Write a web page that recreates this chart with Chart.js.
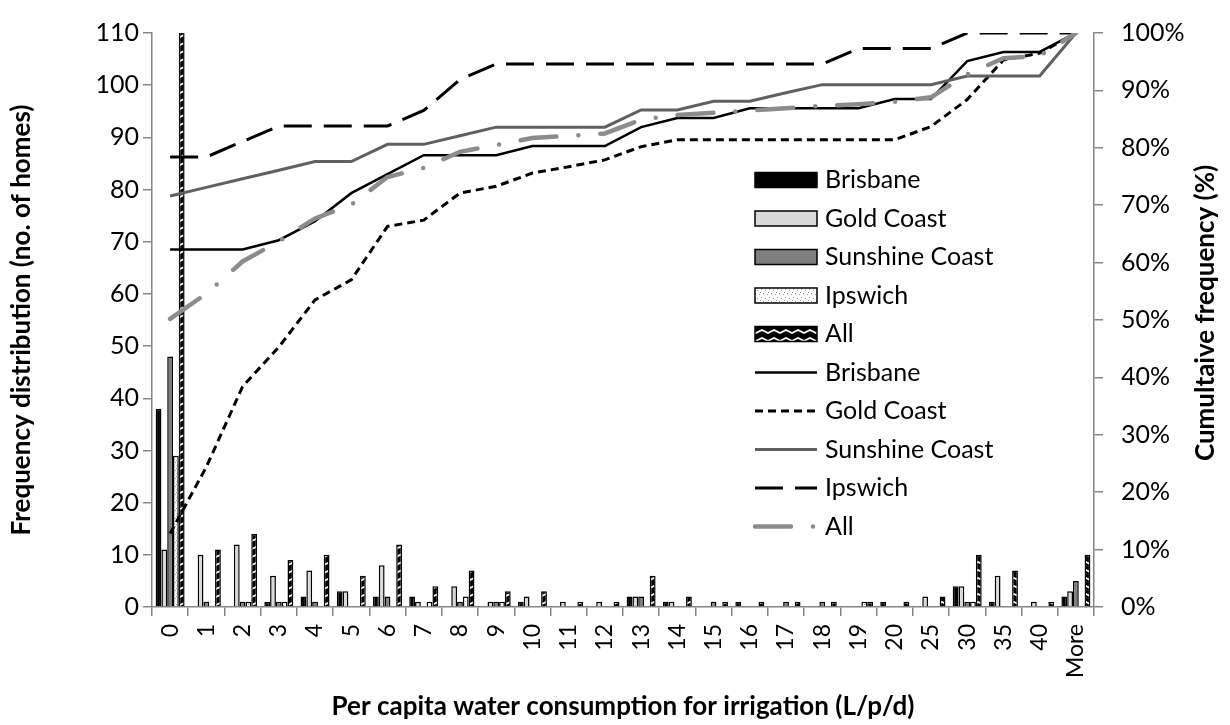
<!DOCTYPE html>
<html>
<head>
<meta charset="utf-8">
<script src="https://cdn.jsdelivr.net/npm/chart.js@4.4.0/dist/chart.umd.min.js"></script>
<style>
html, body { margin: 0; padding: 0; background: #fff; }
#wrap { width: 1230px; height: 725px; }
</style>
</head>
<body>
<div id="wrap"><canvas id="myChart" width="1230" height="725"></canvas></div>
<script>
// categories (L/p/d)
const categories = ['0','1','2','3','4','5','6','7','8','9','10','11','12','13','14','15','16','17','18','19','20','25','30','35','40','More'];

// frequency (no. of homes)
const brisbane  = [38,0,0,1,2,3,2,2,0,0,1,0,0,2,1,0,1,0,0,0,1,0,4,1,0,2];
const goldCoast = [11,10,12,6,7,3,8,1,4,1,2,1,1,2,1,0,0,0,0,0,0,2,4,6,1,3];
const sunshine  = [48,1,1,1,1,0,2,0,1,1,0,0,0,2,0,1,0,1,1,0,0,0,1,0,0,5];
const ipswich   = [29,0,1,1,0,0,0,1,2,1,0,0,0,0,0,0,0,0,0,1,0,0,1,0,0,0];
const allHomes  = [126,11,14,9,10,6,12,4,7,3,3,1,1,6,2,1,1,1,1,1,1,2,10,7,1,10];

// cumulative frequency (%)
const brisbaneCum  = [62.3,62.3,62.3,63.9,67.2,72.1,75.4,78.7,78.7,78.7,80.3,80.3,80.3,83.6,85.2,85.2,86.9,86.9,86.9,86.9,88.5,88.5,95.1,96.7,96.7,100];
const goldCoastCum = [12.8,24.4,38.4,45.3,53.5,57.0,66.3,67.4,72.1,73.3,75.6,76.7,77.9,80.2,81.4,81.4,81.4,81.4,81.4,81.4,81.4,83.7,88.4,95.3,96.5,100];
const sunshineCum  = [71.6,73.1,74.6,76.1,77.6,77.6,80.6,80.6,82.1,83.6,83.6,83.6,83.6,86.6,86.6,88.1,88.1,89.6,91.0,91.0,91.0,91.0,92.5,92.5,92.5,100];
const ipswichCum   = [78.4,78.4,81.1,83.8,83.8,83.8,83.8,86.5,91.9,94.6,94.6,94.6,94.6,94.6,94.6,94.6,94.6,94.6,94.6,97.3,97.3,97.3,100,100,100,100];
const allCum       = [50.2,54.6,60.2,63.7,67.7,70.1,74.9,76.5,79.3,80.5,81.7,82.1,82.5,84.9,85.7,86.1,86.5,86.9,87.3,87.6,88.0,88.8,92.8,95.6,96.0,100];

const yTicks = { min: 0, max: 110, step: 10 };
const y1Ticks = { min: 0, max: 100, step: 10 };

Chart.defaults.font.family = 'Lato';
Chart.defaults.color = '#000';

// fill patterns
function dotPattern() {
    const c = document.createElement('canvas');
    c.width = 8; c.height = 8;
    const g = c.getContext('2d');
    g.fillStyle = '#fff';
    g.fillRect(0, 0, 8, 8);
    g.fillStyle = '#9a9a9a';
    [[1,1],[5,2],[3,5],[7,6],[0,4]].forEach(p => g.fillRect(p[0], p[1], 1, 1));
    return g.createPattern(c, 'repeat');
}
function zigzagPattern() {
    const c = document.createElement('canvas');
    c.width = 12; c.height = 8;
    const g = c.getContext('2d');
    g.fillStyle = '#000';
    g.fillRect(0, 0, 12, 8);
    g.strokeStyle = '#fff';
    g.lineWidth = 1.6;
    g.beginPath();
    g.moveTo(-3, 3); g.lineTo(0, 5); g.lineTo(6, 2); g.lineTo(12, 5); g.lineTo(15, 3);
    g.stroke();
    return g.createPattern(c, 'repeat');
}

const axisGrey = '#868686';

const legendPlugin = {
    id: 'insideLegend',
    afterDraw(chart) {
        const ctx = chart.ctx;
        ctx.save();
        ctx.font = '25px Lato';
        ctx.textBaseline = 'middle';
        chart.data.datasets.forEach((ds, i) => {
            const y = 180 + i * 38.5;
            if (ds.type === 'line') {
                ctx.beginPath();
                ctx.setLineDash(ds.borderDash || []);
                ctx.lineWidth = ds.borderWidth;
                ctx.strokeStyle = ds.borderColor;
                ctx.lineCap = ds.borderCapStyle || 'butt';
                ctx.moveTo(755, y);
                ctx.lineTo(817, y);
                ctx.stroke();
            } else {
                ctx.setLineDash([]);
                ctx.fillStyle = ds.backgroundColor;
                ctx.fillRect(755, y - 7.5, 62, 15);
                ctx.lineWidth = 1.5;
                ctx.strokeStyle = '#000';
                ctx.strokeRect(755, y - 7.5, 62, 15);
            }
            ctx.setLineDash([]);
            ctx.fillStyle = '#000';
            ctx.fillText(ds.label, 825, y);
        });
        // right axis title reads bottom to top
        ctx.translate(1206, 313);
        ctx.rotate(-Math.PI / 2);
        ctx.font = 'bold 26px Lato';
        ctx.textAlign = 'center';
        ctx.fillText('Cumultaive frequency (%)', 0, 0);
        ctx.restore();
    }
};

const barOpts = { yAxisID: 'y', order: 10, borderColor: '#000', borderWidth: 1.5, categoryPercentage: 0.8, barPercentage: 1.0 };

const data = {
    labels: categories,
    datasets: [
        Object.assign({ label: 'Brisbane', data: brisbane, backgroundColor: '#000' }, barOpts),
        Object.assign({ label: 'Gold Coast', data: goldCoast, backgroundColor: '#d9d9d9' }, barOpts),
        Object.assign({ label: 'Sunshine Coast', data: sunshine, backgroundColor: '#7f7f7f' }, barOpts),
        Object.assign({ label: 'Ipswich', data: ipswich, backgroundColor: dotPattern() }, barOpts),
        Object.assign({ label: 'All', data: allHomes, backgroundColor: zigzagPattern() }, barOpts),
        { type: 'line', label: 'Brisbane', data: brisbaneCum, yAxisID: 'y1', order: 5,
          borderColor: '#000', borderWidth: 2.5, pointRadius: 0, tension: 0 },
        { type: 'line', label: 'Gold Coast', data: goldCoastCum, yAxisID: 'y1', order: 4,
          borderColor: '#000', borderWidth: 3, borderDash: [8, 5], pointRadius: 0, tension: 0 },
        { type: 'line', label: 'Sunshine Coast', data: sunshineCum, yAxisID: 'y1', order: 3,
          borderColor: '#606060', borderWidth: 3, pointRadius: 0, tension: 0 },
        { type: 'line', label: 'Ipswich', data: ipswichCum, yAxisID: 'y1', order: 2,
          borderColor: '#000', borderWidth: 3, borderDash: [28, 12], pointRadius: 0, tension: 0 },
        { type: 'line', label: 'All', data: allCum, yAxisID: 'y1', order: 1,
          borderColor: '#8c8c8c', borderWidth: 4.5, borderDash: [36, 22, 0, 22], borderCapStyle: 'round',
          pointRadius: 0, tension: 0 }
    ]
};

const config = {
    type: 'bar',
    data: data,
    options: {
        responsive: false,
        animation: false,
        devicePixelRatio: 1,
        layout: { padding: { top: 20, left: 0, right: 0, bottom: 0 } },
        plugins: { legend: { display: false }, tooltip: { enabled: false } },
        scales: {
            x: {
                grid: { offset: true, drawOnChartArea: false, drawTicks: true, tickLength: 9, color: axisGrey, lineWidth: 1.5 },
                border: { color: axisGrey, width: 1.5 },
                ticks: { minRotation: 90, maxRotation: 90, autoSkip: false, padding: 8, font: { size: 23 } },
                title: { display: true, text: 'Per capita water consumption for irrigation (L/p/d)',
                         font: { size: 26, weight: 'bold' }, padding: { top: 0, bottom: 3 } },
                afterFit(scale) { scale.height = 118; }
            },
            y: {
                position: 'left',
                min: yTicks.min, max: yTicks.max,
                grid: { drawOnChartArea: false, drawTicks: true, tickLength: 9, color: axisGrey, lineWidth: 1.5 },
                border: { color: axisGrey, width: 1.5 },
                ticks: { stepSize: yTicks.step, padding: 4, font: { size: 25 } },
                title: { display: true, text: 'Frequency distribution (no. of homes)',
                         font: { size: 26, weight: 'bold' }, padding: { top: 6, bottom: 0 } },
                afterFit(scale) { scale.width = 152; }
            },
            y1: {
                position: 'right',
                min: y1Ticks.min, max: y1Ticks.max,
                grid: { drawOnChartArea: false, drawTicks: true, tickLength: 9, color: axisGrey, lineWidth: 1.5 },
                border: { color: axisGrey, width: 1.5 },
                ticks: { stepSize: y1Ticks.step, padding: 18, font: { size: 25 },
                         callback: v => v + '%' },
                afterFit(scale) { scale.width = 136; }
            }
        }
    },
    plugins: [legendPlugin]
};

const myChart = new Chart(document.getElementById('myChart'), config);
</script>
</body>
</html>
